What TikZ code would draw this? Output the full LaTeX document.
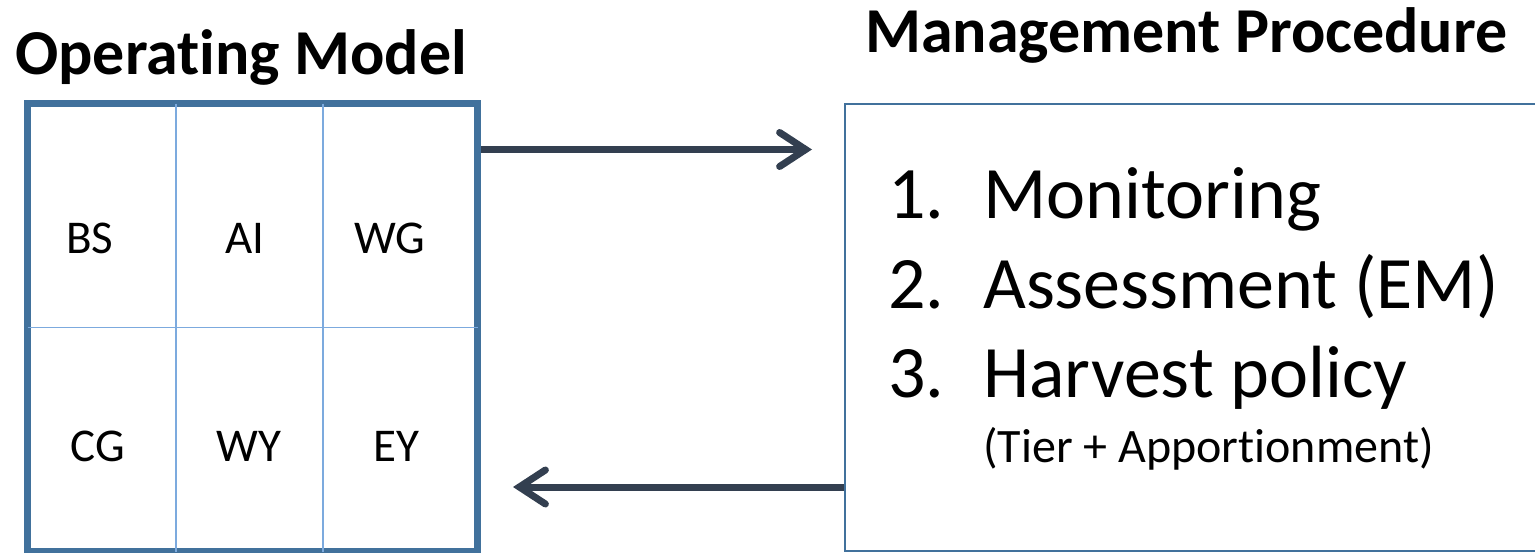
\documentclass[tikz,border=0pt]{standalone}
\usepackage{fontspec}
\setmainfont[Ligatures=NoCommon]{Carlito}
\usetikzlibrary{arrows.meta}

\definecolor{boxblue}{RGB}{65,113,156}
\definecolor{gridblue}{RGB}{124,170,222}
\definecolor{arrowdark}{RGB}{51,63,80}

\tikzset{
  cell/.style={anchor=base,inner sep=0pt,font=\fontsize{47}{56}\selectfont},
  item/.style={anchor=base west,inner sep=0pt,font=\fontsize{74}{88}\selectfont},
  title/.style={anchor=base west,inner sep=0pt,font=\fontsize{64}{77}\selectfont\bfseries},
  gridline/.style={draw=gridblue,line width=1.5pt,shorten <=3.5pt,shorten >=3.5pt},
  flow/.style={draw=arrowdark,line width=7pt,-{Straight Barb[length=26pt,width=34pt,line cap=round]}},
}

\begin{document}
\begin{tikzpicture}[x=1pt,y=-1pt]
\useasboundingbox (0,0) rectangle (1535,552);
\clip (0,0) rectangle (1535,552);

%Shape: Rectangle [Operating Model]
\node (om) [draw=boxblue,line width=7pt,minimum width=450pt,minimum height=448pt,inner sep=0pt] at (252.5,327.5) {};
%Straight Lines [grid]
\foreach \gx in {176,323}
  \draw [gridline] (\gx,0 |- om.north) -- (\gx,0 |- om.south);
\draw [gridline] (om.west) -- (om.east);

%Shape: Rectangle [Management Procedure]
\node (mp) [draw=boxblue,line width=2pt,minimum width=700pt,minimum height=447pt,inner sep=0pt] at (1195,327.5) {};

% Text Node
\node (omtitle) [title] at (15,74) {Operating Model};
% Text Node
\node (mptitle) [title] at (865,52) {Management Procedure};

% Text Node [areas]
\foreach \area/\px/\py in {BS/90/253, AI/245/253, WG/390/253, CG/98/461, WY/249/461, EY/396/461}
  \node (\area) [cell] at (\px,\py) {\area};

% Text Node [steps]
\foreach \k/\step/\py in {1/{Monitoring}/218, 2/{Assessment (EM)}/308, 3/{Harvest policy}/397} {
  \node (num\k) [item] at (888,\py) {\k.};
  \node (step\k) [item] at (983,\py) {\step};
}
% Text Node
\node (tier) [cell,anchor=base west,font=\fontsize{48}{58}\selectfont] at (983,462) {(Tier + Apportionment)};

%Straight Lines [arrows]
\coordinate (omout) at ([yshift=-49.5pt]om.north east);
\coordinate (mpout) at ([yshift=-384pt]mp.north west);
\draw [flow,shorten >=32pt] (omout) -- (omout -| mp.west);
\draw [flow,shorten >=32pt] (mpout) -- (mpout -| om.east);

\end{tikzpicture}
\end{document}
